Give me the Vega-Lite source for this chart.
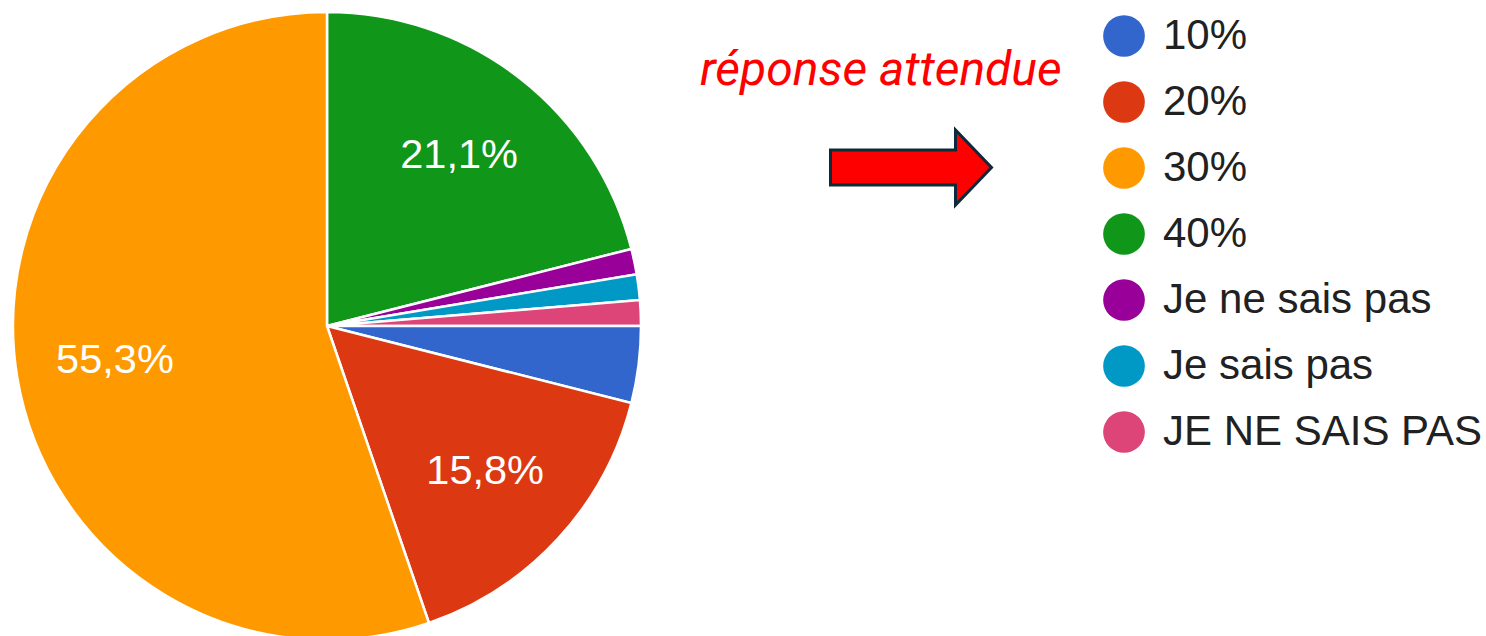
{
  "$schema": "https://vega.github.io/schema/vega-lite/v6.json",
  "width": 654,
  "height": 652,
  "autosize": {"type": "none"},
  "padding": {"left": 0, "top": 0, "right": 832, "bottom": 0},
  "background": "white",
  "view": {"stroke": null},
  "config": {
    "legend": {"symbolBaseFillColor": "#ff0000", "symbolBaseStrokeColor": "#0e2a3a"}
  },
  "data": {
    "values": [
      {"answer": "40%", "n": 16, "rank": 1, "label": "21,1%", "note": "réponse attendue"},
      {"answer": "Je ne sais pas", "n": 1, "rank": 2, "label": "", "note": "réponse attendue"},
      {"answer": "Je sais pas", "n": 1, "rank": 3, "label": "", "note": "réponse attendue"},
      {"answer": "JE NE SAIS PAS", "n": 1, "rank": 4, "label": "", "note": "réponse attendue"},
      {"answer": "10%", "n": 3, "rank": 5, "label": "", "note": "réponse attendue"},
      {"answer": "20%", "n": 12, "rank": 6, "label": "15,8%", "note": "réponse attendue"},
      {"answer": "30%", "n": 42, "rank": 7, "label": "55,3%", "note": "réponse attendue"}
    ]
  },
  "encoding": {
    "theta": {"field": "n", "type": "quantitative", "stack": true},
    "order": {"field": "rank", "type": "quantitative"}
  },
  "layer": [
    {
      "mark": {"type": "arc", "outerRadius": 314, "stroke": "white", "strokeWidth": 2.5},
      "encoding": {
        "color": {
          "field": "answer",
          "type": "nominal",
          "scale": {
            "domain": ["10%", "20%", "30%", "40%", "Je ne sais pas", "Je sais pas", "JE NE SAIS PAS"],
            "range": ["#3366cc", "#dc3912", "#ff9900", "#109618", "#990099", "#0099c6", "#dd4477"]
          },
          "legend": {
            "orient": "none",
            "legendX": 1103,
            "legendY": 15,
            "title": null,
            "padding": 0,
            "symbolType": "circle",
            "symbolSize": 1740,
            "symbolStrokeWidth": 0,
            "symbolOpacity": 1,
            "labelFont": "Liberation Sans",
            "labelFontSize": 42,
            "labelColor": "#212121",
            "labelOffset": 18,
            "labelLimit": 1000,
            "rowPadding": 24
          }
        },
        "opacity": {
          "field": "note",
          "type": "ordinal",
          "scale": {"range": [1, 1]},
          "legend": {
            "orient": "none",
            "legendX": 700,
            "legendY": 47,
            "padding": 0,
            "title": "réponse attendue",
            "titleFont": "Roboto",
            "titleFontStyle": "italic",
            "titleFontWeight": "normal",
            "titleFontSize": 48,
            "titleColor": "#ff0000",
            "titleLimit": 1000,
            "titlePadding": 31,
            "symbolType": "M2.225,-0.4375L5.35,-0.4375L5.35,-0.9375L6.25,0L5.35,0.9375L5.35,0.4375L2.225,0.4375Z",
            "symbolSize": 6400,
            "symbolFillColor": "#ff0000",
            "symbolStrokeColor": "#0e2a3a",
            "symbolStrokeWidth": 3,
            "symbolOpacity": 1,
            "labelExpr": "''"
          }
        }
      }
    },
    {
      "mark": {"type": "text", "radius": 215, "font": "Liberation Sans", "fontSize": 41.5, "fill": "white"},
      "encoding": {
        "detail": {"field": "answer", "type": "nominal"},
        "text": {"field": "label", "type": "nominal"}
      }
    }
  ]
}
